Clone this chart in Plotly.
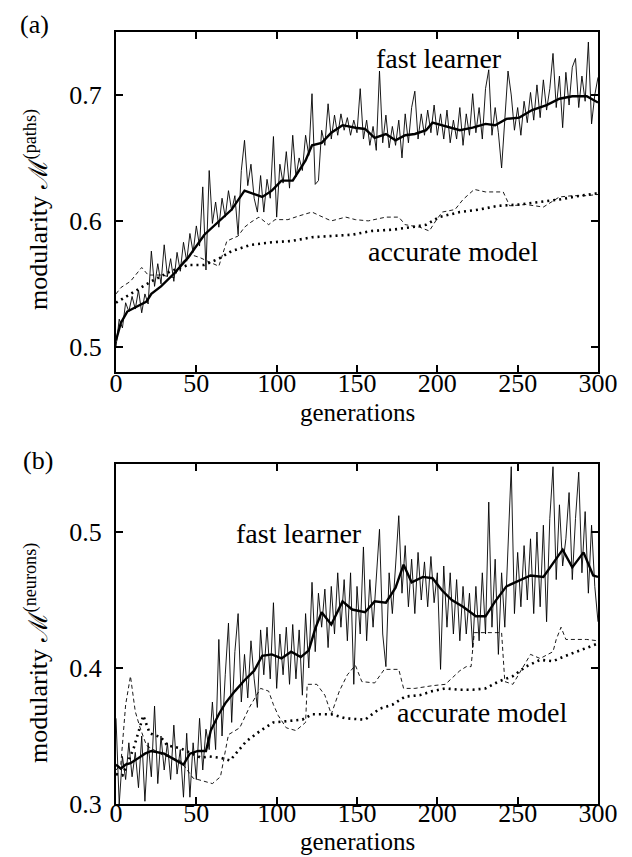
import plotly.graph_objects as go

# ---------------- data ----------------
gen_raw = list(range(0, 301, 2))

# panel (a): modularity M(paths)
a_fast_raw = [
    0.500, 0.522, 0.515, 0.535, 0.528, 0.540, 0.530, 0.545, 0.527, 0.542,
    0.534, 0.576, 0.548, 0.566, 0.550, 0.581, 0.556, 0.570, 0.552, 0.575,
    0.560, 0.583, 0.568, 0.590, 0.575, 0.596, 0.580, 0.627, 0.561, 0.640,
    0.598, 0.615, 0.595, 0.618, 0.603, 0.624, 0.608, 0.620, 0.589, 0.640,
    0.664, 0.628, 0.645, 0.618, 0.607, 0.636, 0.607, 0.633, 0.618, 0.667,
    0.603, 0.645, 0.630, 0.655, 0.626, 0.668, 0.635, 0.650, 0.640, 0.668,
    0.652, 0.701, 0.629, 0.632, 0.672, 0.660, 0.693, 0.665, 0.684, 0.668,
    0.685, 0.672, 0.682, 0.668, 0.680, 0.670, 0.705, 0.665, 0.680, 0.660,
    0.675, 0.656, 0.719, 0.662, 0.684, 0.658, 0.675, 0.660, 0.680, 0.650,
    0.685, 0.662, 0.690, 0.703, 0.665, 0.685, 0.668, 0.688, 0.670, 0.692,
    0.668, 0.685, 0.665, 0.688, 0.662, 0.680, 0.665, 0.690, 0.660, 0.685,
    0.668, 0.701, 0.670, 0.690, 0.665, 0.705, 0.720, 0.668, 0.690, 0.670,
    0.642, 0.685, 0.719, 0.700, 0.672, 0.690, 0.668, 0.695, 0.678, 0.702,
    0.680, 0.708, 0.682, 0.712, 0.688, 0.705, 0.733, 0.690, 0.715, 0.674,
    0.718, 0.692, 0.722, 0.729, 0.690, 0.715, 0.695, 0.742, 0.677, 0.700,
    0.714,
]
a_fast_smooth_x = [0, 3, 7, 13, 19, 22, 28, 36, 45, 55, 64, 72, 80, 86, 91, 97, 103, 110, 118, 122,
                   128, 134, 141, 149, 155, 161, 168, 174, 180, 186, 193, 197, 205, 214, 222, 230,
                   236, 243, 251, 259, 268, 276, 284, 293, 300]
a_fast_smooth_y = [0.505, 0.519, 0.528, 0.532, 0.536, 0.542, 0.548, 0.558, 0.571, 0.589, 0.600, 0.609,
                   0.624, 0.621, 0.619, 0.624, 0.632, 0.632, 0.648, 0.660, 0.662, 0.670, 0.676, 0.674,
                   0.673, 0.666, 0.669, 0.664, 0.668, 0.669, 0.672, 0.678, 0.675, 0.672, 0.674, 0.677,
                   0.676, 0.681, 0.682, 0.688, 0.692, 0.697, 0.699, 0.699, 0.694]
a_acc_raw_x = [0, 3, 9, 16, 20, 28, 36, 41, 47, 52, 57, 64, 69, 76, 80, 84, 89, 95, 99, 107, 114,
               122, 127, 134, 143, 149, 157, 168, 176, 180, 189, 195, 199, 203, 211, 216, 223, 230,
               241, 245, 255, 266, 276, 284, 293, 300]
a_acc_raw_y = [0.542, 0.547, 0.552, 0.563, 0.557, 0.557, 0.555, 0.567, 0.573, 0.571, 0.568, 0.564,
               0.584, 0.588, 0.595, 0.599, 0.603, 0.597, 0.601, 0.601, 0.604, 0.607, 0.604, 0.600,
               0.603, 0.601, 0.600, 0.603, 0.603, 0.597, 0.595, 0.592, 0.600, 0.607, 0.609, 0.617,
               0.625, 0.623, 0.623, 0.612, 0.613, 0.611, 0.619, 0.620, 0.620, 0.621]
a_acc_smooth_x = [0, 9, 22, 34, 45, 55, 64, 72, 84, 97, 109, 122, 134, 147, 159, 172, 184, 193, 201,
                  214, 226, 238, 251, 264, 276, 289, 300]
a_acc_smooth_y = [0.535, 0.542, 0.552, 0.560, 0.565, 0.565, 0.570, 0.576, 0.581, 0.583, 0.584, 0.587,
                  0.588, 0.589, 0.592, 0.593, 0.595, 0.597, 0.603, 0.607, 0.609, 0.612, 0.613, 0.615,
                  0.617, 0.620, 0.622]

# panel (b): modularity M(neurons)
b_fast_raw = [
    0.363, 0.300, 0.335, 0.318, 0.345, 0.320, 0.338, 0.312, 0.350, 0.302,
    0.345, 0.320, 0.372, 0.315, 0.350, 0.325, 0.345, 0.318, 0.358, 0.322,
    0.340, 0.305, 0.352, 0.305, 0.345, 0.318, 0.363, 0.325, 0.355, 0.340,
    0.375, 0.340, 0.421, 0.350, 0.395, 0.433, 0.360, 0.412, 0.440, 0.375,
    0.410, 0.378, 0.420, 0.392, 0.371, 0.428, 0.395, 0.430, 0.392, 0.448,
    0.385, 0.425, 0.395, 0.430, 0.388, 0.432, 0.392, 0.428, 0.380, 0.440,
    0.400, 0.463, 0.412, 0.455, 0.430, 0.458, 0.415, 0.460, 0.425, 0.470,
    0.430, 0.465, 0.420, 0.470, 0.388, 0.460, 0.425, 0.489, 0.420, 0.465,
    0.430, 0.470, 0.502, 0.425, 0.401, 0.470, 0.440, 0.475, 0.512, 0.455,
    0.490, 0.445, 0.480, 0.440, 0.485, 0.450, 0.478, 0.445, 0.482, 0.448,
    0.470, 0.399, 0.475, 0.430, 0.470, 0.425, 0.465, 0.420, 0.460, 0.425,
    0.455, 0.415, 0.460, 0.420, 0.470, 0.425, 0.522, 0.430, 0.480, 0.410,
    0.470, 0.430, 0.495, 0.548, 0.440, 0.485, 0.445, 0.490, 0.450, 0.495,
    0.440, 0.500, 0.445, 0.505, 0.434, 0.510, 0.548, 0.465, 0.520, 0.475,
    0.495, 0.529, 0.465, 0.510, 0.544, 0.470, 0.515, 0.455, 0.505, 0.460,
    0.434,
]
b_fast_smooth_x = [0, 3, 6, 9, 13, 18, 22, 26, 30, 36, 42, 46, 51, 56, 59, 64, 68, 74, 80, 86, 91,
                   97, 103, 109, 115, 120, 124, 128, 134, 141, 147, 155, 161, 168, 174, 179, 184,
                   191, 197, 203, 209, 216, 224, 230, 236, 243, 249, 258, 266, 274, 278, 284, 291,
                   297, 300]
b_fast_smooth_y = [0.329, 0.326, 0.329, 0.330, 0.333, 0.337, 0.339, 0.338, 0.337, 0.333, 0.329, 0.337,
                   0.339, 0.339, 0.354, 0.366, 0.374, 0.383, 0.391, 0.398, 0.409, 0.410, 0.407, 0.412,
                   0.408, 0.413, 0.429, 0.441, 0.432, 0.449, 0.443, 0.441, 0.449, 0.448, 0.459, 0.476,
                   0.463, 0.467, 0.466, 0.457, 0.450, 0.445, 0.438, 0.438, 0.449, 0.460, 0.463, 0.468,
                   0.467, 0.480, 0.487, 0.474, 0.485, 0.468, 0.467]
b_acc_raw_x = [0, 3, 6, 9, 12, 15, 19, 29, 40, 48, 54, 60, 65, 70, 77, 83, 90, 95, 98, 101, 106,
               112, 118, 119, 125, 130, 134, 139, 144, 149, 153, 161, 167, 176, 179, 186, 197, 205,
               214, 218, 221, 223, 230, 240, 242, 247, 253, 258, 264, 272, 274, 277, 280, 293, 300]
b_acc_raw_y = [0.325, 0.329, 0.373, 0.394, 0.368, 0.356, 0.343, 0.336, 0.332, 0.319, 0.317, 0.315,
               0.320, 0.351, 0.356, 0.371, 0.385, 0.383, 0.373, 0.365, 0.356, 0.354, 0.360, 0.388,
               0.388, 0.380, 0.366, 0.383, 0.395, 0.402, 0.390, 0.389, 0.399, 0.399, 0.385, 0.385,
               0.387, 0.388, 0.398, 0.401, 0.401, 0.426, 0.426, 0.426, 0.390, 0.388, 0.400, 0.410,
               0.407, 0.412, 0.421, 0.430, 0.421, 0.421, 0.420]
b_acc_smooth_x = [0, 4, 11, 17, 21, 28, 32, 40, 53, 58, 65, 71, 81, 90, 98, 106, 116, 122, 134, 143,
                  155, 164, 172, 180, 189, 197, 205, 214, 222, 230, 238, 247, 255, 264, 272, 280,
                  289, 300]
b_acc_smooth_y = [0.322, 0.321, 0.341, 0.365, 0.352, 0.349, 0.343, 0.341, 0.334, 0.335, 0.334, 0.332,
                  0.346, 0.354, 0.360, 0.361, 0.362, 0.366, 0.366, 0.363, 0.362, 0.370, 0.373, 0.379,
                  0.380, 0.383, 0.385, 0.384, 0.384, 0.385, 0.390, 0.394, 0.401, 0.406, 0.405, 0.409,
                  0.413, 0.418]

x_ticks = [0, 50, 100, 150, 200, 250, 300]
a_y_ticks = [0.5, 0.6, 0.7]
b_y_ticks = [0.3, 0.4, 0.5]

# ---------------- figure ----------------
FONT = "Liberation Serif"
FS = 28
TFS = 26
W, H = 632, 857
ML, MR, MT, MB = 108, 42, 24, 61

fig = go.Figure()


def add_panel(xa, ya, fast_raw, fsx, fsy, arx, ary, asx, asy):
    fig.add_trace(go.Scatter(x=gen_raw[:len(fast_raw)], y=fast_raw, mode="lines",
                             line=dict(color="black", width=0.9), xaxis=xa, yaxis=ya,
                             showlegend=False, hoverinfo="skip"))
    fig.add_trace(go.Scatter(x=arx, y=ary, mode="lines",
                             line=dict(color="black", width=0.9, dash="4px,3px"),
                             xaxis=xa, yaxis=ya, showlegend=False, hoverinfo="skip"))
    fig.add_trace(go.Scatter(x=asx, y=asy, mode="lines",
                             line=dict(color="black", width=2.6, dash="2px,4px"),
                             xaxis=xa, yaxis=ya, showlegend=False, hoverinfo="skip"))
    fig.add_trace(go.Scatter(x=fsx, y=fsy, mode="lines",
                             line=dict(color="black", width=2.4), xaxis=xa, yaxis=ya,
                             showlegend=False, hoverinfo="skip"))


add_panel("x", "y", a_fast_raw, a_fast_smooth_x, a_fast_smooth_y,
          a_acc_raw_x, a_acc_raw_y, a_acc_smooth_x, a_acc_smooth_y)
add_panel("x2", "y2", b_fast_raw, b_fast_smooth_x, b_fast_smooth_y,
          b_acc_raw_x, b_acc_raw_y, b_acc_smooth_x, b_acc_smooth_y)

plot_h = H - MT - MB
a_bottom = 1 - 340 / plot_h
b_top = 1 - (456 - MT) / plot_h

axis_common = dict(showline=True, linecolor="black", linewidth=2, mirror="ticks",
                   ticks="inside", ticklen=7, tickwidth=1.5, tickcolor="black",
                   showgrid=False, zeroline=False,
                   tickfont=dict(family=FONT, size=TFS, color="black"))

fig.update_layout(
    width=W, height=H,
    margin=dict(l=ML, r=MR, t=MT, b=MB, autoexpand=False),
    paper_bgcolor="white", plot_bgcolor="white",
    font=dict(family=FONT, color="black"),
    xaxis=dict(domain=[0, 1], anchor="y", range=[0, 300], tickvals=x_ticks,
               ticklabelstandoff=-13, **axis_common),
    yaxis=dict(domain=[a_bottom, 1], anchor="x", range=[0.48, 0.75], tickvals=a_y_ticks,
               ticktext=[f"{v:.1f}" for v in a_y_ticks], ticklabelstandoff=7, **axis_common),
    xaxis2=dict(domain=[0, 1], anchor="y2", range=[0, 300], tickvals=x_ticks,
                ticklabelstandoff=-15, **axis_common),
    yaxis2=dict(domain=[0, b_top], anchor="x2", range=[0.3, 0.55], tickvals=b_y_ticks,
                ticktext=[f"{v:.1f}" for v in b_y_ticks], ticklabelstandoff=7, **axis_common),
)


def px_to_paper(px, py):
    return (px - ML) / (W - ML - MR), (H - MB - py) / plot_h


def ann(text, px, py, size=FS, angle=0):
    x, y = px_to_paper(px, py)
    fig.add_annotation(text=text, x=x, y=y, xref="paper", yref="paper",
                       showarrow=False, textangle=angle,
                       font=dict(family=FONT, size=size, color="black"),
                       xanchor="center", yanchor="middle")


ann("(a)", 26, 17, size=TFS)
ann("(b)", 30, 452, size=TFS)
ann("generations", 349, 404, size=25)
ann("generations", 349, 833, size=25)
ann("modularity ℳ<sup>(paths)</sup>", 28, 202, size=26, angle=-90)
ann("modularity ℳ<sup>(neurons)</sup>", 28, 645, size=26, angle=-90)

# in-plot labels (data coordinates)
fig.add_annotation(text="fast learner", x=201, y=0.729, xref="x", yref="y", showarrow=False,
                   font=dict(family=FONT, size=FS, color="black"))
fig.add_annotation(text="accurate model", x=210, y=0.576, xref="x", yref="y", showarrow=False,
                   font=dict(family=FONT, size=FS, color="black"))
fig.add_annotation(text="fast learner", x=114, y=0.499, xref="x2", yref="y2", showarrow=False,
                   font=dict(family=FONT, size=FS, color="black"))
fig.add_annotation(text="accurate model", x=228, y=0.367, xref="x2", yref="y2", showarrow=False,
                   font=dict(family=FONT, size=FS, color="black"))

fig.write_html("out.html")
